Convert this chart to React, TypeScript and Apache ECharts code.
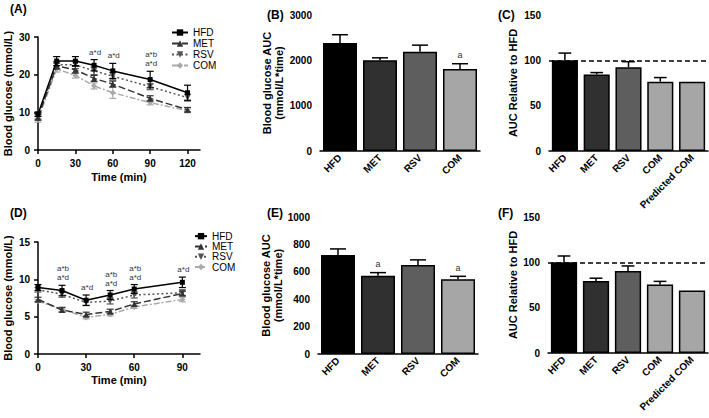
import React, { useEffect, useRef } from 'react';
import * as echarts from 'echarts';

const FONT = '"Liberation Sans", Arial, Helvetica, sans-serif';

// ---------- Data ----------
const groups = ['HFD', 'MET', 'RSV', 'COM'];
const relCats = ['HFD', 'MET', 'RSV', 'COM', 'Predicted COM'];

// Panel A (0-120 min)
const timeA = [0, 15, 30, 45, 60, 90, 120];
const hfdA = [9.5, 23.6, 23.6, 22.5, 21.0, 18.7, 15.2];
const hfdAErr = [0.6, 1.2, 1.2, 1.5, 2.0, 2.2, 2.0];
const metA = [8.7, 22.3, 21.3, 19.0, 17.5, 13.7, 10.7];
const metAErr = [0.8, 0.8, 0.9, 0.8, 0.8, 0.7, 0.6];
const rsvA = [9.0, 22.6, 22.6, 21.0, 19.6, 16.8, 13.9];
const rsvAErr = [0.8, 0.9, 1.0, 1.0, 1.0, 0.8, 0.9];
const comA = [8.2, 21.5, 19.8, 17.0, 15.2, 12.6, 10.4];
const comAErr = [0.8, 0.8, 0.7, 0.8, 1.5, 0.6, 0.5];
const annTimesA = [45, 60, 90];
const annTextA = ['a*d', 'a*d', 'a*b\na*d'];

// Panel B
const aucB = [2380, 2000, 2190, 1810];
const aucBErr = [185, 55, 145, 115];
const sigB = ['', '', '', 'a'];

// Panel C
const relC = [100, 84.5, 92.5, 76.5, 76.5];
const relCErr = [8, 2, 6, 4.5, 0];

// Panel D (0-90 min)
const timeD = [0, 15, 30, 45, 60, 90];
const hfdD = [8.9, 8.5, 7.2, 7.9, 8.7, 9.6];
const hfdDErr = [0.4, 0.7, 0.7, 0.6, 0.6, 0.7];
const metD = [7.3, 5.9, 5.3, 5.7, 6.7, 8.1];
const metDErr = [0.3, 0.3, 0.3, 0.3, 0.3, 0.3];
const rsvD = [8.6, 8.0, 6.9, 7.1, 7.9, 8.2];
const rsvDErr = [0.3, 0.4, 0.4, 0.4, 0.4, 0.4];
const comD = [7.1, 6.0, 4.9, 5.3, 6.3, 7.3];
const comDErr = [0.2, 0.3, 0.2, 0.2, 0.2, 0.3];
const annTimesD = [15, 30, 45, 60, 90];
const annTextD = ['a*b\na*d', 'a*d', 'a*b\na*d', 'a*b\na*d', 'a*d'];

// Panel E
const aucE = [722, 572, 650, 545];
const aucEErr = [45, 22, 37, 22];
const sigE = ['', 'a', '', 'a'];

// Panel F
const relF = [100, 79.5, 90.5, 75.5, 69];
const relFErr = [7, 3, 5.5, 3.5, 0];

// ---------- Styles ----------
const lineColors = ['#000000', '#333333', '#555555', '#aaaaaa'];
const lineDash: any[] = ['solid', [7, 3], [2, 2.5], [6, 2, 2, 2]];
const symbols = ['rect', 'triangle', 'triangle', 'diamond'];
const symbolRot = [0, 0, 180, 0];
const symbolSizes = [5, 6, 6, 6];
const barColors = ['#000000', '#303030', '#5e5e5e', '#a6a6a6', '#a6a6a6'];

const plain = (v: any) => String(v);

const axisCommon = {
  axisLine: { lineStyle: { color: '#000', width: 1.5 } },
  axisTick: { length: 4, lineStyle: { color: '#000', width: 1.5 } },
  axisLabel: { color: '#000', fontWeight: 'bold' as const, fontSize: 10, fontFamily: FONT, formatter: plain },
  splitLine: { show: false },
  nameTextStyle: { color: '#000', fontWeight: 'bold' as const, fontSize: 11, fontFamily: FONT },
};

function lineSeries(idx: number, values: number[], times: number[], axis: number) {
  return {
    type: 'line',
    name: groups[idx],
    xAxisIndex: axis,
    yAxisIndex: axis,
    data: times.map((t, i) => [t, values[i]]),
    symbol: symbols[idx],
    symbolSize: symbolSizes[idx],
    symbolRotate: symbolRot[idx],
    lineStyle: { color: lineColors[idx], width: 1.5, type: lineDash[idx] },
    itemStyle: { color: lineColors[idx] },
    z: 10 - idx,
  };
}

function lineErrSeries(idx: number, values: number[], errs: number[], times: number[], axis: number) {
  const color = lineColors[idx];
  return {
    type: 'custom',
    xAxisIndex: axis,
    yAxisIndex: axis,
    z: 10 - idx,
    silent: true,
    encode: { x: 0, y: [1, 2] },
    data: times.map((t, i) => [t, values[i] - errs[i], values[i] + errs[i]]),
    renderItem: (params: any, api: any) => {
      const x = api.value(0);
      const a = api.coord([x, api.value(1)]);
      const b = api.coord([x, api.value(2)]);
      const c = 3.5;
      const st = { stroke: color, lineWidth: 1.2 };
      return {
        type: 'group',
        children: [
          { type: 'line', shape: { x1: a[0], y1: a[1], x2: b[0], y2: b[1] }, style: st },
          { type: 'line', shape: { x1: a[0] - c, y1: a[1], x2: a[0] + c, y2: a[1] }, style: st },
          { type: 'line', shape: { x1: b[0] - c, y1: b[1], x2: b[0] + c, y2: b[1] }, style: st },
        ],
      };
    },
  };
}

function annSeries(times: number[], texts: string[], refTimes: number[], ref: number[], refErr: number[], axis: number) {
  return {
    type: 'custom',
    xAxisIndex: axis,
    yAxisIndex: axis,
    silent: true,
    z: 20,
    data: times.map((t) => {
      const i = refTimes.indexOf(t);
      return [t, ref[i] + refErr[i]];
    }),
    renderItem: (params: any, api: any) => {
      const p = api.coord([api.value(0), api.value(1)]);
      return {
        type: 'text',
        x: p[0] + 1,
        y: p[1] - 3,
        style: {
          text: texts[params.dataIndex],
          fill: '#333',
          font: `8px ${FONT}`,
          align: 'center',
          verticalAlign: 'bottom',
          lineHeight: 9,
        },
      };
    },
  };
}

function barSeries(values: number[], axis: number, width: string, refLine: boolean) {
  const s: any = {
    type: 'bar',
    name: 'bars' + axis,
    xAxisIndex: axis,
    yAxisIndex: axis,
    barWidth: width,
    data: values.map((v, i) => ({ value: v, itemStyle: { color: barColors[i] } })),
    itemStyle: { borderColor: '#000', borderWidth: 1.5 },
    z: 2,
  };
  if (refLine) {
    s.markLine = {
      silent: true,
      symbol: 'none',
      label: { show: false },
      lineStyle: { type: [5, 3], color: '#000', width: 1.5 },
      data: [{ yAxis: 100 }],
    };
  }
  return s;
}

function barErrSeries(values: number[], errs: number[], sig: string[] | null, axis: number) {
  return {
    type: 'custom',
    xAxisIndex: axis,
    yAxisIndex: axis,
    silent: true,
    z: 5,
    encode: { x: 0, y: [1, 2] },
    data: values.map((v, i) => [i, v, v + errs[i]]),
    renderItem: (params: any, api: any) => {
      const i = api.value(0);
      const a = api.coord([i, api.value(1)]);
      const b = api.coord([i, api.value(2)]);
      const c = api.size([1, 0])[0] * 0.2;
      const st = { stroke: '#000', lineWidth: 1.5 };
      const children: any[] = [];
      if (api.value(2) > api.value(1)) {
        children.push({ type: 'line', shape: { x1: a[0], y1: a[1], x2: b[0], y2: b[1] }, style: st });
        children.push({ type: 'line', shape: { x1: b[0] - c, y1: b[1], x2: b[0] + c, y2: b[1] }, style: st });
      }
      const t = sig ? sig[params.dataIndex] : '';
      if (t) {
        children.push({
          type: 'text',
          x: b[0],
          y: b[1] - 4,
          style: { text: t, fill: '#333', font: `9px ${FONT}`, align: 'center', verticalAlign: 'bottom' },
        });
      }
      return { type: 'group', children };
    },
  };
}

function titleText(text: string, left: number, top: number) {
  return {
    text, left, top, padding: 0,
    textStyle: { fontSize: 12, fontWeight: 'bold', color: '#000', fontFamily: FONT },
  };
}

export default function App() {
  const ref = useRef<HTMLDivElement>(null);
  useEffect(() => {
    if (!ref.current) return;
    const chart = echarts.init(ref.current, undefined, { renderer: 'svg' });

    const legendBase = {
      orient: 'vertical',
      itemHeight: 8,
      itemGap: 0,
      padding: 0,
      data: groups,
      selectedMode: false,
      textStyle: { fontSize: 10, color: '#000', fontFamily: FONT, lineHeight: 11 },
    };

    const catLabel = { ...axisCommon.axisLabel, rotate: 45, margin: 5, interval: 0 };
    const catTick = { ...axisCommon.axisTick, alignWithLabel: true };

    const option: any = {
      animation: false,
      backgroundColor: '#fff',
      title: [
        titleText('(A)', 10, 3),
        titleText('(B)', 267, 9),
        titleText('(C)', 498, 9),
        titleText('(D)', 10, 207),
        titleText('(E)', 267, 207),
        titleText('(F)', 498, 207),
      ],
      legend: [
        { ...legendBase, itemWidth: 16, left: 171, top: 27 },
        {
          ...legendBase, itemWidth: 12, left: 194, top: 231,
          textStyle: { ...legendBase.textStyle, lineHeight: 10.3 },
        },
      ],
      grid: [
        { left: 38, top: 37, width: 162, height: 113 },
        { left: 320, top: 15, width: 160, height: 136 },
        { left: 549, top: 15, width: 159, height: 136 },
        { left: 38, top: 242, width: 162, height: 112 },
        { left: 318, top: 217, width: 160, height: 137 },
        { left: 548, top: 217, width: 160, height: 136 },
      ],
      xAxis: [
        {
          ...axisCommon, gridIndex: 0, type: 'value', min: 0, max: 130, interval: 30,
          axisLabel: { ...axisCommon.axisLabel, customValues: [0, 30, 60, 90, 120] },
          axisTick: { ...axisCommon.axisTick, customValues: [0, 30, 60, 90, 120] },
          name: 'Time (min)', nameLocation: 'middle', nameGap: 21,
        },
        { ...axisCommon, gridIndex: 1, type: 'category', data: groups, axisTick: catTick, axisLabel: catLabel },
        { ...axisCommon, gridIndex: 2, type: 'category', data: relCats, axisTick: catTick, axisLabel: catLabel },
        {
          ...axisCommon, gridIndex: 3, type: 'value', min: 0, max: 101, interval: 30,
          axisLabel: { ...axisCommon.axisLabel, customValues: [0, 30, 60, 90] },
          axisTick: { ...axisCommon.axisTick, customValues: [0, 30, 60, 90] },
          name: 'Time (min)', nameLocation: 'middle', nameGap: 20,
        },
        { ...axisCommon, gridIndex: 4, type: 'category', data: groups, axisTick: catTick, axisLabel: catLabel },
        { ...axisCommon, gridIndex: 5, type: 'category', data: relCats, axisTick: catTick, axisLabel: catLabel },
      ],
      yAxis: [
        {
          ...axisCommon, gridIndex: 0, type: 'value', min: 0, max: 30, interval: 10,
          name: 'Blood glucose (mmol/L)', nameLocation: 'middle', nameGap: 25,
        },
        {
          ...axisCommon, gridIndex: 1, type: 'value', min: 0, max: 3000, interval: 1000,
          name: 'Blood glucose AUC\n(mmol/L*time)', nameLocation: 'middle', nameGap: 35,
          nameTextStyle: { ...axisCommon.nameTextStyle, lineHeight: 12 },
        },
        {
          ...axisCommon, gridIndex: 2, type: 'value', min: 0, max: 150, interval: 50,
          name: 'AUC Relative to HFD', nameLocation: 'middle', nameGap: 31,
        },
        {
          ...axisCommon, gridIndex: 3, type: 'value', min: 0, max: 15, interval: 5,
          name: 'Blood glucose (mmol/L)', nameLocation: 'middle', nameGap: 25,
        },
        {
          ...axisCommon, gridIndex: 4, type: 'value', min: 0, max: 1000, interval: 200,
          name: 'Blood glucose AUC\n(mmol/L*time)', nameLocation: 'middle', nameGap: 32,
          nameTextStyle: { ...axisCommon.nameTextStyle, lineHeight: 12 },
        },
        {
          ...axisCommon, gridIndex: 5, type: 'value', min: 0, max: 150, interval: 50,
          name: 'AUC Relative to HFD', nameLocation: 'middle', nameGap: 30,
        },
      ],
      series: [
        // Panel A
        lineErrSeries(3, comA, comAErr, timeA, 0),
        lineErrSeries(2, rsvA, rsvAErr, timeA, 0),
        lineErrSeries(1, metA, metAErr, timeA, 0),
        lineErrSeries(0, hfdA, hfdAErr, timeA, 0),
        lineSeries(3, comA, timeA, 0),
        lineSeries(2, rsvA, timeA, 0),
        lineSeries(1, metA, timeA, 0),
        lineSeries(0, hfdA, timeA, 0),
        annSeries(annTimesA, annTextA, timeA, hfdA, hfdAErr, 0),
        // Panel B
        barSeries(aucB, 1, '85%', false),
        barErrSeries(aucB, aucBErr, sigB, 1),
        // Panel C
        barSeries(relC, 2, '82%', true),
        barErrSeries(relC, relCErr, null, 2),
        // Panel D
        lineErrSeries(3, comD, comDErr, timeD, 3),
        lineErrSeries(2, rsvD, rsvDErr, timeD, 3),
        lineErrSeries(1, metD, metDErr, timeD, 3),
        lineErrSeries(0, hfdD, hfdDErr, timeD, 3),
        lineSeries(3, comD, timeD, 3),
        lineSeries(2, rsvD, timeD, 3),
        lineSeries(1, metD, timeD, 3),
        lineSeries(0, hfdD, timeD, 3),
        annSeries(annTimesD, annTextD, timeD, hfdD, hfdDErr, 3),
        // Panel E
        barSeries(aucE, 4, '85%', false),
        barErrSeries(aucE, aucEErr, sigE, 4),
        // Panel F
        barSeries(relF, 5, '82%', true),
        barErrSeries(relF, relFErr, null, 5),
      ],
    };
    chart.setOption(option);
    return () => chart.dispose();
  }, []);
  return (
    <div
      ref={ref}
      style={{ position: 'absolute', left: 0, top: 0, width: 709, height: 418, background: '#fff' }}
    />
  );
}
